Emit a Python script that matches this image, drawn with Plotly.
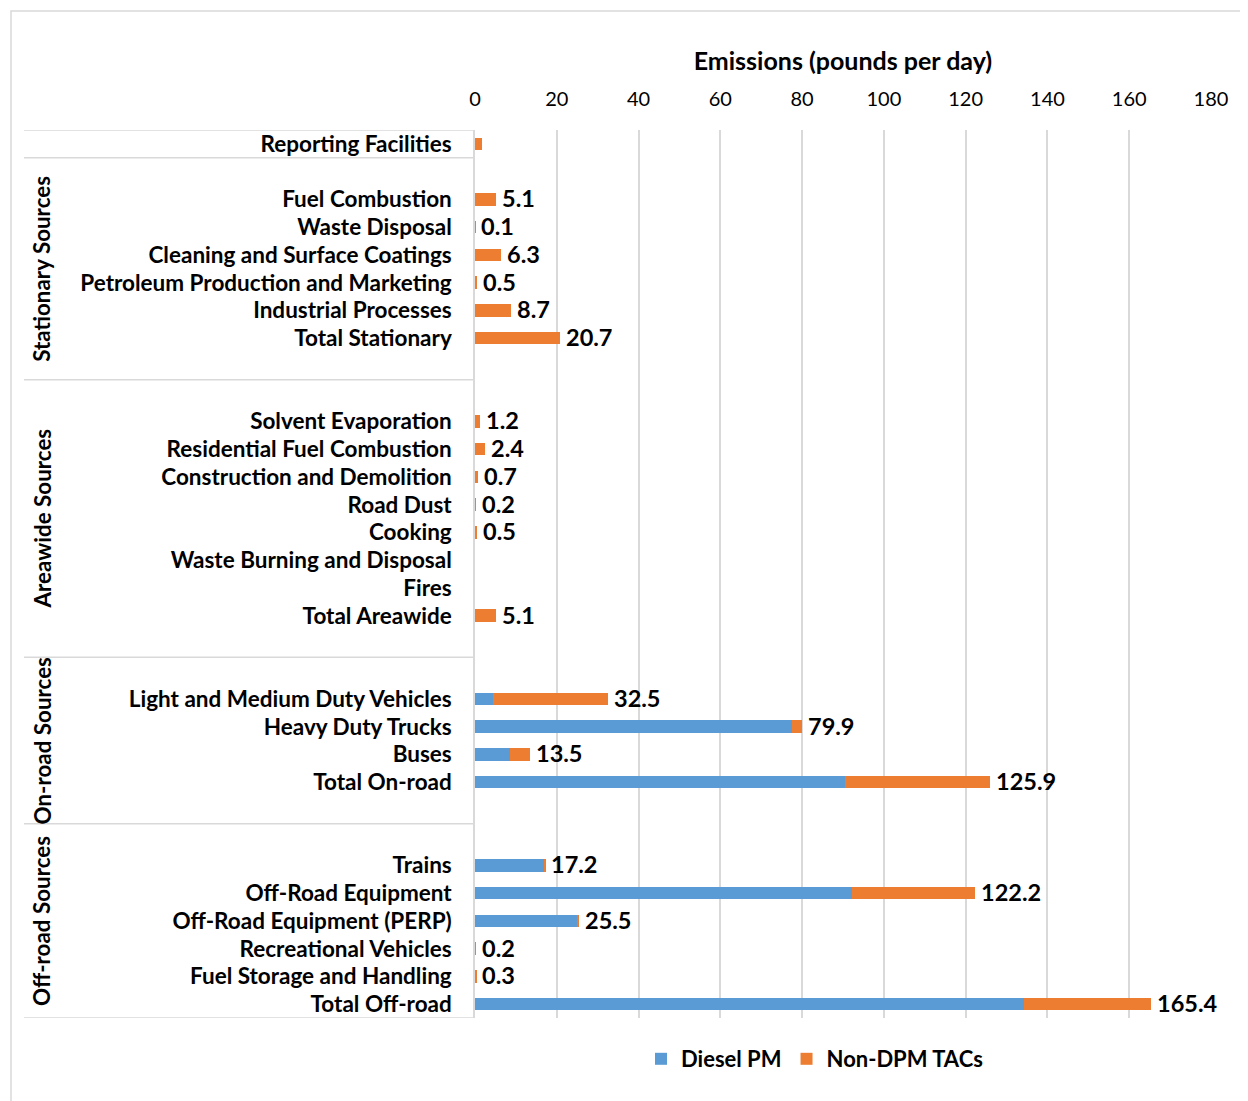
import plotly.graph_objects as go

# ---------------- data ----------------
top_category = "Reporting Facilities"
top_diesel = 0.0
top_non_dpm = 1.6

group_names = ["Stationary Sources", "Areawide Sources", "On-road Sources", "Off-road Sources"]

stationary_cats = ["Fuel Combustion", "Waste Disposal", "Cleaning and Surface Coatings",
                   "Petroleum Production and Marketing", "Industrial Processes", "Total Stationary"]
stationary_diesel = [0, 0, 0, 0, 0, 0]
stationary_non_dpm = [5.1, 0.1, 6.3, 0.5, 8.7, 20.7]

areawide_cats = ["Solvent Evaporation", "Residential Fuel Combustion", "Construction and Demolition",
                 "Road Dust", "Cooking", "Waste Burning and Disposal", "Fires", "Total Areawide"]
areawide_diesel = [0, 0, 0, 0, 0, 0, 0, 0]
areawide_non_dpm = [1.2, 2.4, 0.7, 0.2, 0.5, 0, 0, 5.1]

onroad_cats = ["Light and Medium Duty Vehicles", "Heavy Duty Trucks", "Buses", "Total On-road"]
onroad_diesel = [4.3, 77.6, 8.6, 90.6]
onroad_non_dpm = [28.2, 2.3, 4.9, 35.3]

offroad_cats = ["Trains", "Off-Road Equipment", "Off-Road Equipment (PERP)", "Recreational Vehicles",
                "Fuel Storage and Handling", "Total Off-road"]
offroad_diesel = [16.9, 92.2, 25.1, 0, 0, 134.2]
offroad_non_dpm = [0.3, 30.0, 0.4, 0.2, 0.3, 31.2]

# categories whose total is not labelled
unlabelled = ["Reporting Facilities", "Waste Burning and Disposal", "Fires"]

x_ticks = [0, 20, 40, 60, 80, 100, 120, 140, 160, 180]
series_names = ["Diesel PM", "Non-DPM TACs"]
x_title = "Emissions (pounds per day)"

# ---------------- build rows ----------------
groups = [
    (group_names[0], stationary_cats, stationary_diesel, stationary_non_dpm),
    (group_names[1], areawide_cats, areawide_diesel, areawide_non_dpm),
    (group_names[2], onroad_cats, onroad_diesel, onroad_non_dpm),
    (group_names[3], offroad_cats, offroad_diesel, offroad_non_dpm),
]

rows_name, rows_diesel, rows_non = [top_category], [top_diesel], [top_non_dpm]
group_spans = []
for gi, (gname, cats, dsl, non) in enumerate(groups):
    start = len(rows_name)
    rows_name.append(""); rows_diesel.append(None); rows_non.append(None)
    rows_name += cats; rows_diesel += dsl; rows_non += non
    if gi < len(groups) - 1:
        rows_name.append(""); rows_diesel.append(None); rows_non.append(None)
    group_spans.append((gname, start - 0.5, len(rows_name) - 0.5))

n = len(rows_name)
ypos = list(range(n))
idx = [i for i in range(n) if rows_name[i] != ""]

BLUE = "#5B9BD5"
ORANGE = "#ED7D31"
GRID = "#D9D9D9"
FONT = "Lato"

# page offset of the figure inside the browser window (body margin)
OFF = 8
W, H = 1248 - OFF, 1101 - OFF
# plot area edges, in window pixels
PL, PR, PT, PB = 475, 1211, 130, 1018
L, R, T, B = PL - OFF, W - (PR - OFF), PT - OFF, H - (PB - OFF)
pw = PR - PL
ph = PB - PT


def px_x(p):
    return (p - PL) / pw


def px_y(p):
    return (PB - p) / ph


fig = go.Figure()
fig.add_trace(go.Bar(
    name=series_names[0], orientation="h",
    y=[ypos[i] for i in idx], x=[rows_diesel[i] for i in idx],
    marker=dict(color=BLUE, line=dict(width=0)), width=0.45,
))
fig.add_trace(go.Bar(
    name=series_names[1], orientation="h",
    y=[ypos[i] for i in idx], x=[rows_non[i] for i in idx],
    marker=dict(color=ORANGE, line=dict(width=0)), width=0.45,
))

annotations = []
for i in idx:
    if rows_name[i] in unlabelled:
        continue
    tot = rows_diesel[i] + rows_non[i]
    annotations.append(dict(
        x=tot, y=ypos[i], xref="x", yref="y", text=f"{tot:.1f}", showarrow=False,
        xanchor="left", yanchor="middle", xshift=5, yshift=1, borderpad=0,
        font=dict(family=FONT, size=23.5, color="black", weight="bold"),
    ))

shapes = []
bounds = [-0.5, 0.5] + [s[2] for s in group_spans]
for b in bounds:
    shapes.append(dict(type="line", xref="paper", yref="y", x0=px_x(24), x1=0, y0=b, y1=b,
                       line=dict(color=GRID, width=1.5)))
shapes.append(dict(type="rect", xref="paper", yref="paper", x0=px_x(11), x1=px_x(1270),
                   y0=px_y(1130), y1=px_y(11), line=dict(color=GRID, width=1.5),
                   fillcolor="rgba(0,0,0,0)", layer="below"))

for gname, y0, y1 in group_spans:
    annotations.append(dict(
        x=px_x(42), y=(y0 + y1) / 2, xref="paper", yref="y", text=gname, showarrow=False,
        textangle=-90, xanchor="center", yanchor="middle",
        font=dict(family=FONT, size=22.4, color="black", weight="bold"),
    ))

fig.update_layout(
    width=W, height=H,
    margin=dict(l=L, r=R, t=T, b=B, autoexpand=False),
    barmode="stack",
    plot_bgcolor="white", paper_bgcolor="white",
    font=dict(family=FONT, color="black"),
    showlegend=True,
    legend=dict(orientation="h", x=px_x(641), y=px_y(1059), xanchor="left", yanchor="middle",
                font=dict(family=FONT, size=22, color="black", weight="bold"),
                traceorder="normal"),
    xaxis=dict(
        side="top", range=[0, 180], tickvals=x_ticks, ticktext=[str(v) for v in x_ticks],
        showgrid=True, gridcolor=GRID, gridwidth=1.5, zeroline=False, showline=False,
        tickfont=dict(family=FONT, size=20, color="black"), ticklabelstandoff=19,
        title=dict(text=x_title, font=dict(family=FONT, size=25, color="black", weight="bold"),
                   standoff=8),
        fixedrange=True,
    ),
    yaxis=dict(
        range=[n - 0.5, -0.5], tickvals=[ypos[i] for i in idx], ticktext=[rows_name[i] for i in idx],
        showgrid=False, zeroline=False, showline=True, linecolor=GRID, linewidth=1.5,
        tickfont=dict(family=FONT, size=22.5, color="black", weight="bold"), ticklabelstandoff=17,
        ticks="", fixedrange=True,
    ),
    shapes=shapes, annotations=annotations,
)

fig.write_html("out.html")
